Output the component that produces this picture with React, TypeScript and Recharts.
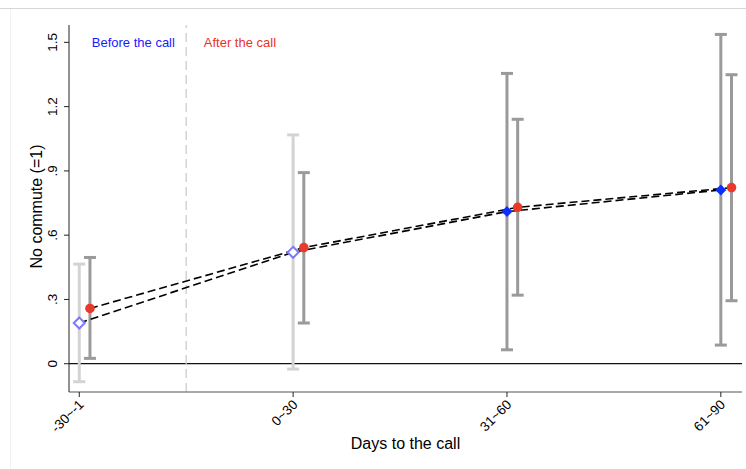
import React from 'react';
import {
  ComposedChart,
  Line,
  Scatter,
  ErrorBar,
  XAxis,
  YAxis,
  ReferenceLine,
  Label,
} from 'recharts';

// Period bins (days relative to the call)
const categories = ['-30~-1', '0~30', '31~60', '61~90'];

// Estimates and 95% CI bounds, before the call
const beforeEst = [0.19, 0.52, 0.71, 0.811];
const beforeLo = [-0.084, -0.025, 0.065, 0.087];
const beforeHi = [0.465, 1.068, 1.355, 1.537];

// Estimates and 95% CI bounds, after the call
const afterEst = [0.258, 0.542, 0.73, 0.822];
const afterLo = [0.025, 0.19, 0.32, 0.294];
const afterHi = [0.496, 0.892, 1.141, 1.349];

// Which "before" points are drawn hollow (pre-period) vs filled
const beforeHollow = [true, true, false, false];

const yTicks = [0, 0.3, 0.6, 0.9, 1.2, 1.5];
const yTickLabels = ['0', '.3', '.6', '.9', '1.2', '1.5'];

const AFTER_SHIFT = 0.05;
const FONT = '"Liberation Sans", Arial, Helvetica, sans-serif';

const beforeRows = categories.map((_, i) => ({
  x: i,
  y: beforeEst[i],
  err: [beforeEst[i] - beforeLo[i], beforeHi[i] - beforeEst[i]],
  hollow: beforeHollow[i],
}));
const afterRows = categories.map((_, i) => ({
  x: i + AFTER_SHIFT,
  y: afterEst[i],
  err: [afterEst[i] - afterLo[i], afterHi[i] - afterEst[i]],
}));

const beforeLight = beforeRows.filter((r) => r.hollow);
const beforeDark = beforeRows.filter((r) => !r.hollow);

const Empty = () => <g />;

const Diamond = (props: any) => {
  const { cx, cy, payload } = props;
  const r = 5.5;
  const d = `M${cx},${cy - r}L${cx + r},${cy}L${cx},${cy + r}L${cx - r},${cy}Z`;
  if (payload && payload.hollow) {
    return <path d={d} fill="#ffffff" stroke="#7b7bff" strokeWidth={2} />;
  }
  return <path d={d} fill="#0a2fff" stroke="none" />;
};

const Dot = (props: any) => {
  const { cx, cy } = props;
  return <circle cx={cx} cy={cy} r={4.8} fill="#e8392b" />;
};

const YTick = (props: any) => {
  const { x, y, payload } = props;
  const idx = yTicks.indexOf(payload.value);
  return (
    <g transform={`translate(${x - 5},${y}) rotate(-90)`}>
      <text x={0} y={0} textAnchor="middle" fontSize={13.5} fill="#000">
        {idx >= 0 ? yTickLabels[idx] : payload.value}
      </text>
    </g>
  );
};

const XTick = (props: any) => {
  const { x, y, payload } = props;
  return (
    <g transform={`translate(${x + 2},${y + 3}) rotate(-45)`}>
      <text x={0} y={0} dy="0.35em" textAnchor="end" fontSize={13.5} fill="#000">
        {categories[payload.value]}
      </text>
    </g>
  );
};

const YTitle = (props: any) => {
  const vb = props.viewBox || {};
  const cx = 42;
  const cy = (vb.y ?? 25) + (vb.height ?? 367) / 2 - 2;
  return (
    <text
      x={cx}
      y={cy}
      transform={`rotate(-90, ${cx}, ${cy})`}
      textAnchor="middle"
      fontSize={16}
      fill="#000"
    >
      No commute (=1)
    </text>
  );
};

const PeriodLabels = (props: any) => {
  const vb = props.viewBox || {};
  const x = vb.x ?? 0;
  return (
    <g fontSize={13}>
      <text x={x - 94.4} y={47} fill="#1a1aff">
        Before the call
      </text>
      <text x={x + 17.6} y={47} fill="#e8332a">
        After the call
      </text>
    </g>
  );
};

export default function App() {
  return (
    <div
      style={{
        position: 'absolute',
        left: 0,
        top: 0,
        width: 746,
        height: 469,
        background: '#ffffff',
        fontFamily: FONT,
      }}
    >
      <div
        style={{
          position: 'absolute',
          left: 0,
          top: 8,
          width: 746,
          height: 461,
          borderTop: '1px solid #d6d6d6',
          boxSizing: 'border-box',
        }}
      />
      <div
        style={{
          position: 'absolute',
          left: 10,
          top: 9,
          width: 736,
          height: 460,
          borderLeft: '1px solid #f2f2f2',
          boxSizing: 'border-box',
        }}
      />
      <div style={{ position: 'absolute', left: 0, top: 0 }}>
        <ComposedChart
          width={746}
          height={469}
          margin={{ top: 25, right: 4, left: 0, bottom: 0 }}
        >
          <XAxis
            type="number"
            dataKey="x"
            domain={[-0.048, 3.099]}
            ticks={[0, 1, 2, 3]}
            allowDataOverflow
            height={77}
            tickSize={5}
            axisLine={{ stroke: '#555555' }}
            tickLine={{ stroke: '#222222' }}
            tick={<XTick />}
            interval={0}
          >
            <Label
              value="Days to the call"
              position="insideBottom"
              offset={20}
              fontSize={16}
              fill="#000"
            />
          </XAxis>
          <YAxis
            type="number"
            width={69}
            domain={[-0.132, 1.581]}
            ticks={yTicks}
            allowDataOverflow
            tickSize={5}
            axisLine={{ stroke: '#222222' }}
            tickLine={{ stroke: '#222222' }}
            tick={<YTick />}
            interval={0}
          >
            <Label content={<YTitle />} position="center" />
          </YAxis>

          <ReferenceLine y={0} stroke="#111111" strokeWidth={1.2} />
          <ReferenceLine
            x={0.5}
            stroke="#c8cfcc"
            strokeWidth={1.3}
            strokeDasharray="9 5"
            label={<PeriodLabels />}
          />

          {/* confidence intervals */}
          <Scatter data={beforeLight} dataKey="y" shape={<Empty />} isAnimationActive={false}>
            <ErrorBar dataKey="err" direction="y" stroke="#d3d3d3" strokeWidth={3} width={6} />
          </Scatter>
          <Scatter data={beforeDark} dataKey="y" shape={<Empty />} isAnimationActive={false}>
            <ErrorBar dataKey="err" direction="y" stroke="#9a9a9a" strokeWidth={3} width={6} />
          </Scatter>
          <Scatter data={afterRows} dataKey="y" shape={<Empty />} isAnimationActive={false}>
            <ErrorBar dataKey="err" direction="y" stroke="#9a9a9a" strokeWidth={3} width={6} />
          </Scatter>

          {/* connecting lines */}
          <Line
            data={beforeRows}
            dataKey="y"
            type="linear"
            stroke="#000"
            strokeWidth={1.6}
            strokeDasharray="8 4"
            dot={false}
            activeDot={false}
            isAnimationActive={false}
          />
          <Line
            data={afterRows}
            dataKey="y"
            type="linear"
            stroke="#000"
            strokeWidth={1.6}
            strokeDasharray="8 4"
            dot={false}
            activeDot={false}
            isAnimationActive={false}
          />

          {/* point estimates */}
          <Scatter data={beforeRows} dataKey="y" shape={<Diamond />} isAnimationActive={false} />
          <Scatter data={afterRows} dataKey="y" shape={<Dot />} isAnimationActive={false} />
        </ComposedChart>
      </div>
    </div>
  );
}
